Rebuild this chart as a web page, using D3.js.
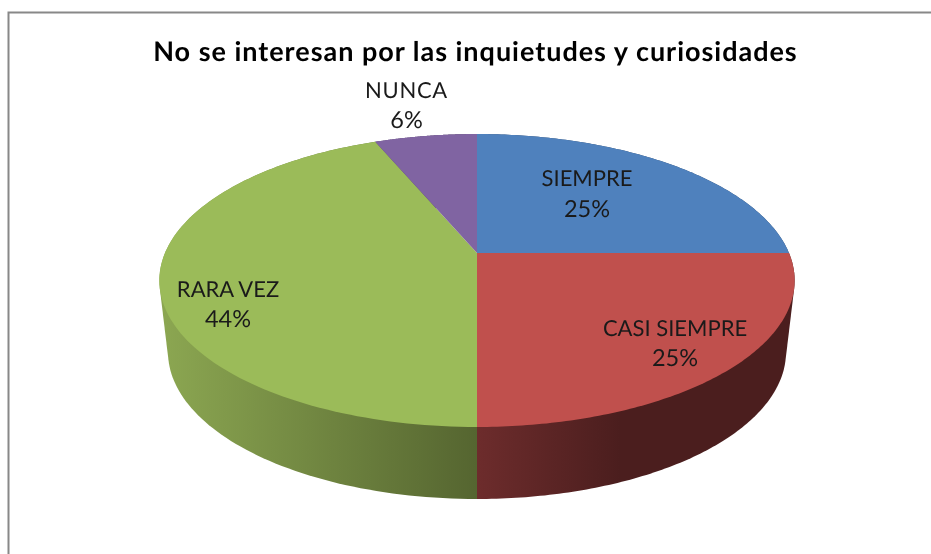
<!DOCTYPE html>
<html><head><meta charset="utf-8">
<script src="https://cdnjs.cloudflare.com/ajax/libs/d3/7.8.5/d3.min.js"></script>
<style>
html,body{margin:0;padding:0;background:#fff;overflow:hidden}
svg{filter:blur(0.45px)}
text{font-family:Lato,"Noto Sans",sans-serif;text-rendering:geometricPrecision}
</style></head><body>
<script>
const titleText = "No se interesan por las inquietudes y curiosidades";
const categories = ["SIEMPRE","CASI SIEMPRE","RARA VEZ","NUNCA"];
const counts = [4,4,7,1];
const topColors = ["#4f81bd","#c0504d","#9bbb59","#8064a2"];
const sideStart = ["#3a5f8c","#6d2c2c","#8ba651","#5d4a76"];
const sideEnd = ["#2c4669","#4b1e1e","#556530","#443555"];

const W=931,H=554;
const svg=d3.select("body").append("svg").attr("width",W).attr("height",H).style("display","block");
const defs=svg.append("defs");
svg.append("rect").attr("width",W).attr("height",H).attr("fill","#fff");
svg.append("path").attr("d",`M8.5 ${H+5} V12.5 H${W+5}`).attr("fill","none").attr("stroke","#888").attr("stroke-width",2);

svg.append("text").attr("x",475.5).attr("y",61).attr("text-anchor","middle")
  .attr("font-size",27).attr("font-weight",700).attr("letter-spacing",0.98).attr("fill","#000").text(titleText);

// perspective pie: angle (clockwise from 12 o'clock) projected on the top or bottom face
const persp=0.1877;
const faceTop={cx:477,cy:253,ax:312,ay:141.3}, faceBottom={cx:477,cy:324.4,ax:303.5,ay:141.8};
function project(a,f){
  const u=Math.sin(a),v=Math.cos(a),w=1+persp*v;
  return [f.cx+f.ax*u/w,f.cy-f.ay*v/w];
}
const arcs=d3.pie().sort(null).value(d=>d)(counts);
const total=d3.sum(counts), pct=d3.format(".0%");
const line=d3.line();
const rim=(a0,a1,f)=>d3.range(0,121).map(i=>project(a0+(a1-a0)*i/120,f));

// side walls: convex hull of a slice's two rims; the top faces cover the inner part
const gradX=[[477,477],[477,620],[165,477],[375,477]];
arcs.forEach((d,i)=>{
  const id="side"+i;
  const g=defs.append("linearGradient").attr("id",id).attr("gradientUnits","userSpaceOnUse")
    .attr("x1",gradX[i][0]).attr("x2",gradX[i][1]).attr("y1",0).attr("y2",0);
  g.append("stop").attr("offset",0).attr("stop-color",sideStart[i]);
  g.append("stop").attr("offset",1).attr("stop-color",sideEnd[i]);
  const hull=d3.polygonHull(rim(d.startAngle,d.endAngle,faceTop).concat(rim(d.startAngle,d.endAngle,faceBottom)));
  svg.append("path").attr("d",line(hull)+"Z").attr("fill",`url(#${id})`);
});
// top faces
arcs.forEach((d,i)=>{
  const pts=[[faceTop.cx,faceTop.cy]].concat(rim(d.startAngle,d.endAngle,faceTop));
  svg.append("path").attr("d",line(pts)+"Z").attr("fill",topColors[i]);
});
// labels
const labelPos=[[587,186,217,0],[675,336,366,0],[228,297,327,0],[406.5,98,128,0.7]];
categories.forEach((c,i)=>{
  const [x,y1,y2,ls]=labelPos[i];
  const t=svg.append("g").attr("fill","#1a1a1a").attr("text-anchor","middle");
  t.append("text").attr("x",x).attr("y",y1).attr("font-size",22).attr("letter-spacing",ls).text(c);
  t.append("text").attr("x",x).attr("y",y2).attr("font-size",23.5).text(pct(counts[i]/total));
});
</script>
</body></html>
